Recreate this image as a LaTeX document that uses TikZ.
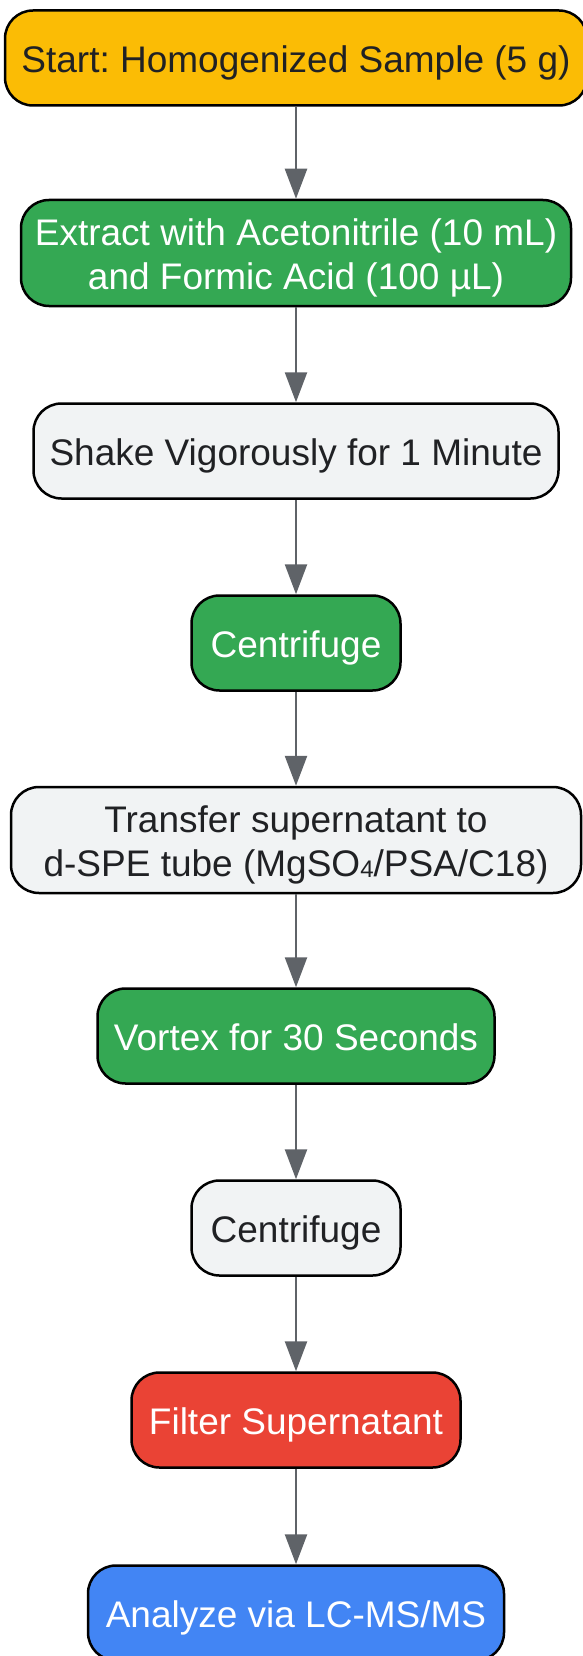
\documentclass[tikz,border=0pt]{standalone}
\usepackage{fontspec}
\setmainfont{Liberation Sans}
\frenchspacing
\usetikzlibrary{arrows.meta}
\definecolor{cyellow}{HTML}{FBBC05}
\definecolor{cgreen}{HTML}{34A853}
\definecolor{cgrey}{HTML}{F1F3F4}
\definecolor{cred}{HTML}{EA4335}
\definecolor{cblue}{HTML}{4285F4}
\definecolor{cdark}{HTML}{202124}
\definecolor{carrow}{HTML}{5F6368}
\begin{document}
\begin{tikzpicture}[x=1pt,y=-1pt,
  box/.style={draw=black, line width=2.5pt, rounded corners=28pt, minimum height=95pt,
    align=center, inner sep=0pt, font=\fontsize{37}{43.5}\selectfont},
  one/.style={text height=32pt, text depth=3pt},
  two/.style={text height=75.5pt, text depth=3pt, minimum height=106pt},
  ybox/.style={box, fill=cyellow, text=cdark},
  gbox/.style={box, fill=cgreen, text=white},
  wbox/.style={box, fill=cgrey, text=cdark},
  rbox/.style={box, fill=cred, text=white},
  bbox/.style={box, fill=cblue, text=white},
  flow/.style={draw=carrow, line width=2.5pt, -{Triangle[width=22pt,length=30pt]}, color=carrow}
]
\useasboundingbox (0,0) rectangle (583,1656);
\clip (0,0) rectangle (583,1656);
\node[ybox, one, minimum width=582pt] (n1) at (296,58) {Start: Homogenized Sample (5 g)};
\node[gbox, two, minimum width=550pt] (n2) at (296,253) {Extract with Acetonitrile (10 mL)\\and Formic Acid (100 µL)};
\node[wbox, one, minimum width=525pt] (n3) at (296,451) {Shake Vigorously for 1 Minute};
\node[gbox, one, minimum width=209pt] (n4) at (296,643) {Centrifuge};
\node[wbox, two, minimum width=570pt] (n5) at (296,840) {Transfer supernatant to\\d-SPE tube (MgSO\raisebox{-1pt}{\fontsize{24}{24}\selectfont 4}/PSA/C18)};
\node[gbox, one, minimum width=397pt] (n6) at (296,1036) {Vortex for 30 Seconds};
\node[wbox, one, minimum width=209pt] (n7) at (296,1228) {Centrifuge};
\node[rbox, one, minimum width=329pt] (n8) at (296,1420) {Filter Supernatant};
\node[bbox, one, minimum width=416pt] (n9) at (296,1613) {Analyze via LC-MS/MS};
\foreach \a/\b in {n1/n2,n2/n3,n3/n4,n4/n5,n5/n6,n6/n7,n7/n8,n8/n9}
  \draw[flow] (\a.south) -- (\b.north);
\end{tikzpicture}
\end{document}
